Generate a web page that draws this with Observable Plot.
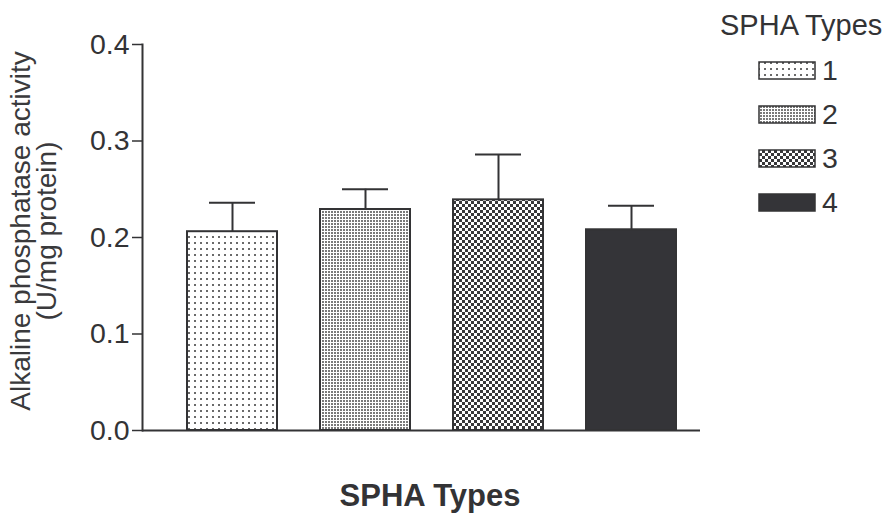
<!DOCTYPE html>
<html>
<head>
<meta charset="utf-8">
<script src="https://cdn.jsdelivr.net/npm/d3@7"></script>
<script src="https://cdn.jsdelivr.net/npm/@observablehq/plot@0.6"></script>
<style>
  html, body { margin: 0; padding: 0; background: white; }
  #chart { width: 893px; height: 518px; }
</style>
</head>
<body>
<div id="chart"></div>
<script>
// ---- data ----
const categories = ["1", "2", "3", "4"];
const means = [0.206, 0.229, 0.239, 0.208];
const errors = [0.030, 0.021, 0.047, 0.025];
const yTicks = [0, 0.1, 0.2, 0.3, 0.4];
const yLabelLines = ["Alkaline phosphatase activity", "(U/mg protein)"];
const xLabel = "SPHA Types";
const legendTitle = "SPHA Types";

// ---- styles ----
const fills = ["url(#pat1)", "url(#pat2)", "url(#pat3)", "url(#pat4)"];
const ink = "#333335";
const font = "'Liberation Sans', Arial, Helvetica, sans-serif";

const data = categories.map((c, i) => ({type: c, mean: means[i], err: errors[i], top: means[i] + errors[i]}));

const chart = Plot.plot({
  width: 893,
  height: 518,
  marginLeft: 142,
  marginRight: 193,
  marginTop: 44,
  marginBottom: 88,
  style: {fontFamily: font, fontSize: "28px", color: ink, background: "white"},
  x: {domain: categories, paddingInner: 0.325, paddingOuter: 0.2555, align: 0.647, axis: null},
  y: {domain: [0, 0.4], axis: null},
  color: {type: "ordinal", domain: categories, range: fills},
  marks: [
    Plot.ruleX(data, {x: "type", y1: "mean", y2: "top", stroke: ink, strokeWidth: 2}),
    Plot.tickY(data, {x: "type", y: "top", stroke: ink, strokeWidth: 2, insetLeft: 22, insetRight: 22}),
    Plot.barY(data, {x: "type", y: "mean", fill: "type", stroke: ink, strokeWidth: 2}),
    Plot.axisY({ticks: yTicks, tickFormat: d3.format(".1f"), tickSize: 10, tickPadding: 3, label: null, fontSize: 28.5, strokeWidth: 1.5}),
    Plot.frame({anchor: "left", stroke: ink, strokeWidth: 2}),
    Plot.ruleY([0], {stroke: ink, strokeWidth: 2})
  ]
});

document.getElementById("chart").appendChild(chart);

// pattern definitions
const svg = d3.select(chart);
const defs = svg.insert("defs", ":first-child");
// pattern 1: sparse dots
const p1 = defs.append("pattern").attr("id", "pat1").attr("patternUnits", "userSpaceOnUse").attr("width", 6).attr("height", 6);
p1.append("rect").attr("width", 6).attr("height", 6).attr("fill", "white");
p1.append("rect").attr("x", 2).attr("y", 2).attr("width", 2).attr("height", 2).attr("fill", "#6a6a6a");
// pattern 2: dense dots
const p2 = defs.append("pattern").attr("id", "pat2").attr("patternUnits", "userSpaceOnUse").attr("width", 3).attr("height", 3);
p2.append("rect").attr("width", 3).attr("height", 3).attr("fill", "white");
p2.append("rect").attr("x", 1).attr("y", 1).attr("width", 2).attr("height", 2).attr("fill", "#7a7a7a");
// pattern 3: checkerboard
const p3 = defs.append("pattern").attr("id", "pat3").attr("patternUnits", "userSpaceOnUse").attr("width", 6).attr("height", 6);
p3.append("rect").attr("width", 6).attr("height", 6).attr("fill", "white");
p3.append("rect").attr("x", 0).attr("y", 0).attr("width", 3).attr("height", 3).attr("fill", "#38383a");
p3.append("rect").attr("x", 3).attr("y", 3).attr("width", 3).attr("height", 3).attr("fill", "#38383a");
// pattern 4: solid
const p4 = defs.append("pattern").attr("id", "pat4").attr("patternUnits", "userSpaceOnUse").attr("width", 4).attr("height", 4);
p4.append("rect").attr("width", 4).attr("height", 4).attr("fill", "#343438");

// y axis label (two lines, rotated)
const yl = svg.append("text")
  .attr("transform", "translate(32,231) rotate(-90)")
  .attr("text-anchor", "middle")
  .attr("font-family", font)
  .attr("font-size", 28)
  .attr("fill", "#3a3a3c");
yLabelLines.forEach((t, i) => {
  yl.append("tspan").attr("x", 0).attr("dy", i === 0 ? "-2" : "26").text(t);
});

// x axis label
svg.append("text")
  .attr("x", 430).attr("y", 506)
  .attr("text-anchor", "middle")
  .attr("font-family", font)
  .attr("font-size", 31)
  .attr("font-weight", "bold")
  .attr("fill", ink)
  .text(xLabel);

// legend
const lg = svg.append("g").attr("font-family", font).attr("fill", ink).attr("text-anchor", "start");
lg.append("text").attr("x", 720).attr("y", 35).attr("font-size", 29).attr("text-anchor", "start").text(legendTitle);
categories.forEach((c, i) => {
  const cy = 70 + i * 44;
  lg.append("rect").attr("x", 759).attr("y", cy - 8).attr("width", 56).attr("height", 17)
    .attr("fill", fills[i]).attr("stroke", ink).attr("stroke-width", 1.5);
  lg.append("text").attr("x", 822).attr("y", cy + 10).attr("font-size", 28.5).attr("text-anchor", "start").text(c);
});
</script>
</body>
</html>
